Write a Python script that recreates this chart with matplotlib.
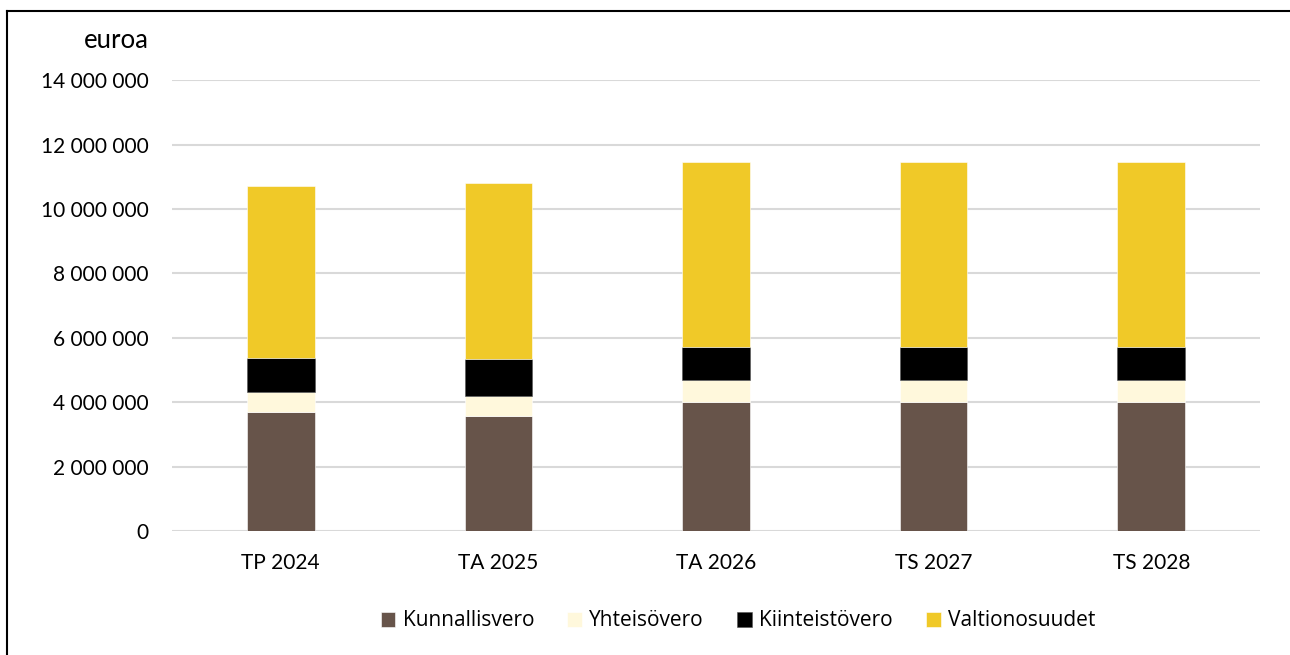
import matplotlib.pyplot as plt
from matplotlib.lines import Line2D
from matplotlib.ticker import FuncFormatter
import numpy as np

plt.rcParams['font.family'] = ['Lato', 'DejaVu Sans']

years = ['TP 2024', 'TA 2025', 'TA 2026', 'TS 2027', 'TS 2028']
kunnallisvero = [3690000, 3580000, 4010000, 4010000, 4010000]
yhteisovero = [620000, 620000, 670000, 670000, 670000]
kiinteistovero = [1060000, 1140000, 1050000, 1050000, 1050000]
valtionosuudet = [5360000, 5480000, 5730000, 5730000, 5730000]

series = [
    ('Kunnallisvero', kunnallisvero, '#67544A'),
    ('Yhteisövero', yhteisovero, '#FFF8DC'),
    ('Kiinteistövero', kiinteistovero, '#000000'),
    ('Valtionosuudet', valtionosuudet, '#F0C928'),
]

fig = plt.figure(figsize=(12.9, 6.55), dpi=100)
ax = fig.add_axes([172/1290, 1-531/655, (1260-172)/1290, (531-80.3)/655])

x = np.arange(len(years))
bottom = np.zeros(len(years))
for name, vals, col in series:
    ax.bar(x, vals, 0.31, bottom=bottom, color=col, label=name,
           edgecolor='white' if col != '#000000' else '#555555', linewidth=0.4, zorder=3)
    bottom += np.array(vals)

ax.set_ylim(0, 14000000)
ax.set_xlim(-0.5, len(years) - 0.5)
ax.set_yticks(np.arange(0, 14000001, 2000000))
ax.yaxis.set_major_formatter(FuncFormatter(lambda v, p: f'{int(v):,}'.replace(',', ' ')))
ax.set_xticks(x)
ax.set_xticklabels(years)
ax.grid(axis='y', color='#D9D9D9', linewidth=1.5, zorder=0)
for s in ax.spines.values():
    s.set_visible(False)
ax.tick_params(length=0, labelsize=15, colors='black')
ax.tick_params(axis='y', pad=17)
ax.tick_params(axis='x', pad=16)

fig.text(149/1290, 1-41/655, 'euroa', ha='right', va='center', fontsize=18.5)

fig.legend(loc='center', bbox_to_anchor=(738/1290, 1-621/655), ncol=4, frameon=False,
           prop={'family': ['Open Sans', 'DejaVu Sans'], 'size': 15},
           handlelength=0.7, handleheight=0.7, handletextpad=0.35,
           columnspacing=1.6)

# outer frame: only top and left edges are visible in the picture
fig.add_artist(Line2D([7/1290, 1.0], [1-11/655, 1-11/655], transform=fig.transFigure,
                      color='black', linewidth=1.5))
fig.add_artist(Line2D([7/1290, 7/1290], [0.0, 1-11/655], transform=fig.transFigure,
                      color='black', linewidth=1.5))

fig.savefig('out.png', dpi=100)
